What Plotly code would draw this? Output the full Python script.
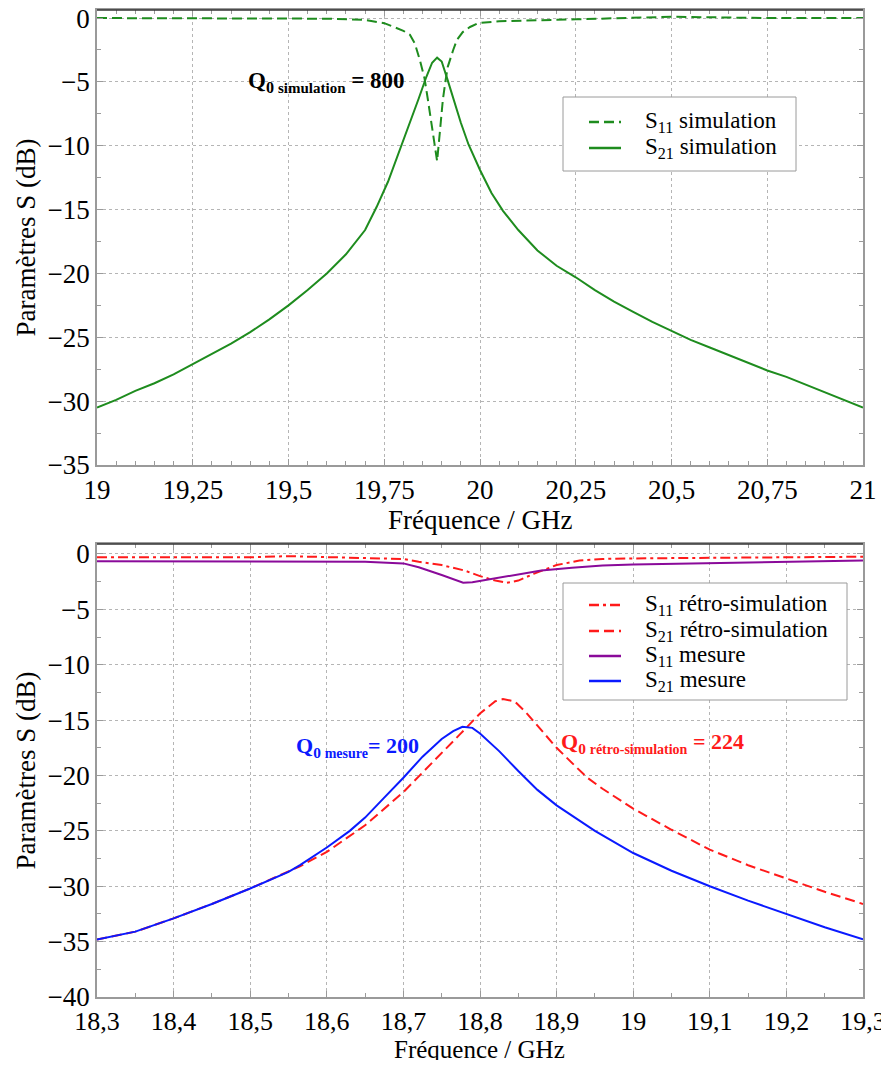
import plotly.graph_objects as go

# ---------------- Data: top chart (simulation) ----------------
f_s11_sim = [19.00, 19.25, 19.50, 19.60, 19.70, 19.75, 19.775, 19.80, 19.817, 19.83, 19.843,
             19.855, 19.864, 19.875, 19.888, 19.895, 19.903, 19.91, 19.916, 19.93, 19.94,
             19.955, 19.974, 19.995, 20.05, 20.25, 20.50, 20.75, 21.00]
s11_sim = [0.0, 0.0, 0.0, -0.05, -0.15, -0.4, -0.7, -1.0, -1.3, -2.0, -3.3,
           -4.7, -6.4, -8.6, -11.2, -9.0, -6.4, -4.9, -3.8, -2.5, -1.7,
           -1.1, -0.7, -0.4, -0.25, -0.1, 0.1, 0.0, 0.0]

f_s21_sim = [19.00, 19.05, 19.10, 19.15, 19.20, 19.25, 19.30, 19.35, 19.40, 19.45, 19.50,
             19.55, 19.60, 19.65, 19.70, 19.73, 19.76, 19.78, 19.80, 19.82, 19.84, 19.86,
             19.875, 19.888, 19.90, 19.915, 19.93, 19.95, 19.97, 20.00, 20.03, 20.06, 20.10,
             20.15, 20.20, 20.25, 20.30, 20.35, 20.40, 20.45, 20.50, 20.55, 20.60, 20.65,
             20.70, 20.75, 20.80, 20.85, 20.90, 20.95, 21.00]
s21_sim = [-30.5, -29.9, -29.2, -28.6, -27.9, -27.1, -26.3, -25.5, -24.6, -23.6, -22.5,
           -21.3, -20.0, -18.5, -16.6, -14.8, -12.8, -11.2, -9.6, -8.0, -6.3, -4.6,
           -3.5, -3.1, -3.4, -4.8, -6.3, -8.2, -9.9, -11.9, -13.7, -15.1, -16.6,
           -18.2, -19.4, -20.3, -21.3, -22.2, -23.0, -23.8, -24.5, -25.2, -25.8, -26.4,
           -27.0, -27.6, -28.1, -28.7, -29.3, -29.9, -30.5]

# ---------------- Data: bottom chart (measurement / retro-simulation) ----------------
f_s11_retro = [18.30, 18.40, 18.50, 18.55, 18.60, 18.65, 18.70, 18.72, 18.75, 18.78, 18.80,
               18.82, 18.835, 18.85, 18.87, 18.90, 18.93, 18.96, 19.00, 19.10, 19.20, 19.30]
s11_retro = [-0.3, -0.3, -0.3, -0.2, -0.3, -0.35, -0.45, -0.7, -1.0, -1.5, -2.0,
             -2.4, -2.6, -2.4, -1.8, -1.0, -0.6, -0.45, -0.4, -0.35, -0.3, -0.25]

f_s21_retro = [18.30, 18.35, 18.40, 18.45, 18.50, 18.55, 18.565, 18.60, 18.63, 18.65, 18.70,
               18.75, 18.775, 18.80, 18.82, 18.83, 18.845, 18.86, 18.88, 18.90, 18.925, 18.94,
               18.96, 19.00, 19.05, 19.10, 19.15, 19.20, 19.25, 19.30]
s21_retro = [-34.8, -34.1, -32.9, -31.6, -30.2, -28.7, -28.2, -26.9, -25.5, -24.5, -21.5,
             -18.0, -16.2, -14.4, -13.3, -13.1, -13.3, -14.3, -15.9, -17.5, -19.2, -20.2,
             -21.2, -23.0, -24.9, -26.7, -28.1, -29.3, -30.5, -31.6]

f_s11_mes = [18.30, 18.40, 18.50, 18.60, 18.65, 18.70, 18.72, 18.75, 18.778, 18.79, 18.82,
             18.85, 18.88, 18.92, 18.96, 19.00, 19.10, 19.20, 19.30]
s11_mes = [-0.65, -0.65, -0.7, -0.65, -0.7, -0.85, -1.2, -1.9, -2.6, -2.55, -2.2,
           -1.8, -1.5, -1.25, -1.05, -0.95, -0.85, -0.75, -0.6]

f_s21_mes = [18.30, 18.35, 18.40, 18.45, 18.50, 18.55, 18.565, 18.60, 18.63, 18.65, 18.675,
             18.70, 18.725, 18.75, 18.765, 18.777, 18.79, 18.80, 18.825, 18.85, 18.875,
             18.90, 18.95, 19.00, 19.05, 19.10, 19.15, 19.20, 19.25, 19.30]
s21_mes = [-34.8, -34.1, -32.9, -31.6, -30.2, -28.7, -28.1, -26.5, -25.0, -23.8, -22.0,
           -20.2, -18.3, -16.7, -16.0, -15.6, -15.7, -16.2, -17.8, -19.6, -21.3,
           -22.7, -25.0, -27.0, -28.6, -30.0, -31.3, -32.5, -33.7, -34.8]

# ---------------- Labels ----------------
xticks_top = [19, 19.25, 19.5, 19.75, 20, 20.25, 20.5, 20.75, 21]
xticks_bot = [18.3, 18.4, 18.5, 18.6, 18.7, 18.8, 18.9, 19.0, 19.1, 19.2, 19.3]
xtext_top = ["19", "19,25", "19,5", "19,75", "20", "20,25", "20,5", "20,75", "21"]
xtext_bot = ["18,3", "18,4", "18,5", "18,6", "18,7", "18,8", "18,9", "19", "19,1", "19,2", "19,3"]
legend_top = ["S<sub>11</sub> simulation", "S<sub>21</sub> simulation"]
legend_bot = ["S<sub>11</sub> rétro-simulation", "S<sub>21</sub> rétro-simulation",
              "S<sub>11</sub> mesure", "S<sub>21</sub> mesure"]
x_title = "Fréquence / GHz"
y_title = "Paramètres S (dB)"

GREEN = "#1e8c1e"
RED = "#ff1a1a"
BLUE = "#0a1aff"
PURPLE = "#8a0a9a"
FONT = "Liberation Serif, Times New Roman, Tinos, DejaVu Serif, serif"
DASH = "10px,5px"
DASHDOT = "10px,4px,3px,4px"

# page offset (browser body margin) and figure size
OFF = 8
W, H = 889 - OFF, 1068 - 2 * OFF


def px_x(p):
    return (p - OFF) / W


def px_y(p):
    return 1 - (p - OFF) / H


fig = go.Figure()

top_series = [(f_s11_sim, s11_sim, GREEN, DASH), (f_s21_sim, s21_sim, GREEN, "solid")]
bot_series = [(f_s11_retro, s11_retro, RED, DASHDOT), (f_s21_retro, s21_retro, RED, DASH),
              (f_s11_mes, s11_mes, PURPLE, "solid"), (f_s21_mes, s21_mes, BLUE, "solid")]

for (fx, fy, col, dash), name in zip(top_series, legend_top):
    fig.add_trace(go.Scatter(x=fx, y=fy, mode="lines", name=name, showlegend=False,
                             line=dict(color=col, width=2, dash=dash), xaxis="x", yaxis="y"))
for (fx, fy, col, dash), name in zip(bot_series, legend_bot):
    fig.add_trace(go.Scatter(x=fx, y=fy, mode="lines", name=name, showlegend=False,
                             line=dict(color=col, width=2, dash=dash), xaxis="x2", yaxis="y2"))

axis_common = dict(
    showline=True, linecolor="#9a9a9a", linewidth=1.5, mirror="ticks",
    ticks="inside", ticklen=6, tickcolor="#9a9a9a", automargin=False,
    ticklabeloverflow="allow",
    showgrid=True, gridcolor="#b5b5b5", griddash="dot", gridwidth=1,
    zeroline=False, tickfont=dict(family=FONT, size=27, color="black"),
)
bottom_x_common = dict(axis_common, tickfont=dict(family=FONT, size=26, color="black"))

fig.update_layout(
    width=W, height=H,
    margin=dict(l=0, r=0, t=0, b=0),
    paper_bgcolor="white", plot_bgcolor="white",
    font=dict(family=FONT, color="black"),
    showlegend=False,
    xaxis=dict(domain=[px_x(97), px_x(863)], range=[19, 21], anchor="y",
               tickvals=xticks_top, ticktext=xtext_top,
               minor=dict(ticks="inside", ticklen=4, dtick=0.05, tick0=19, tickcolor="#9a9a9a", showgrid=False),
               **axis_common),
    yaxis=dict(domain=[px_y(465), px_y(10)], range=[-35, 0.63], anchor="x", dtick=5, tick0=0,
               minor=dict(ticks="inside", ticklen=4, dtick=2.5, tick0=0, tickcolor="#9a9a9a", showgrid=False),
               title=dict(text=y_title, font=dict(family=FONT, size=27), standoff=4),
               **axis_common),
    xaxis2=dict(domain=[px_x(97), px_x(863)], range=[18.3, 19.3], anchor="y2",
                tickvals=xticks_bot, ticktext=xtext_bot,
                minor=dict(ticks="inside", ticklen=4, dtick=0.05, tick0=18.3, tickcolor="#9a9a9a", showgrid=False),
                **bottom_x_common),
    yaxis2=dict(domain=[px_y(997), px_y(544)], range=[-40, 0.9], anchor="x2", dtick=5, tick0=0,
                minor=dict(ticks="inside", ticklen=4, dtick=2.5, tick0=0, tickcolor="#9a9a9a", showgrid=False),
                title=dict(text=y_title, font=dict(family=FONT, size=27), standoff=4),
                **axis_common),
)

# x-axis titles (placed as text below each plot)
for xa, ya_px, fs in (("x", 520, 27), ("x2", 1049, 25)):
    fig.add_annotation(x=0.5, y=px_y(ya_px), xref=f"{xa} domain", yref="paper",
                       xanchor="center", yanchor="middle", text=x_title, showarrow=False,
                       font=dict(family=FONT, size=fs, color="black"))


def draw_legend(box, rows_y, series, names):
    x0, y0, x1, y1 = box
    fig.add_shape(type="rect", xref="paper", yref="paper",
                  x0=px_x(x0), x1=px_x(x1), y0=px_y(y1), y1=px_y(y0),
                  line=dict(color="#9a9a9a", width=1), fillcolor="white", layer="above")
    for (fx, fy, col, dash), name, ry in zip(series, names, rows_y):
        fig.add_shape(type="line", xref="paper", yref="paper",
                      x0=px_x(589), x1=px_x(621), y0=px_y(ry), y1=px_y(ry),
                      line=dict(color=col, width=2.5, dash=dash), layer="above")
        fig.add_annotation(x=px_x(643), y=px_y(ry), xref="paper", yref="paper",
                           xanchor="left", yanchor="middle", text=name, showarrow=False,
                           font=dict(family=FONT, size=23, color="black"))


draw_legend((563, 97, 796, 171), [122, 148], top_series, legend_top)
draw_legend((563, 583, 847, 700), [605, 631, 656, 681], bot_series, legend_bot)

fig.add_annotation(x=19.6, y=-5, xref="x", yref="y",
                   text="<b>Q<sub>0 <span style='font-size:15px'>simulation</span></sub> = 800</b>",
                   showarrow=False, font=dict(family=FONT, size=23, color="black"))
fig.add_annotation(x=18.64, y=-17.4, xref="x2", yref="y2",
                   text="<b>Q<sub>0 <span style='font-size:14px'>mesure</span></sub>= 200</b>",
                   showarrow=False, font=dict(family=FONT, size=22, color=BLUE))
fig.add_annotation(x=19.025, y=-17.1, xref="x2", yref="y2",
                   text="<b>Q<sub>0 <span style='font-size:14px'>rétro-simulation</span></sub> = 224</b>",
                   showarrow=False, font=dict(family=FONT, size=22, color=RED))

# dark top border, as in the reference
for xa, ya in (("x", "y"), ("x2", "y2")):
    fig.add_shape(type="line", xref=f"{xa} domain", yref=f"{ya} domain",
                  x0=0, x1=1, y0=1, y1=1, line=dict(color="#333333", width=1.5))

fig.write_html("out.html")
